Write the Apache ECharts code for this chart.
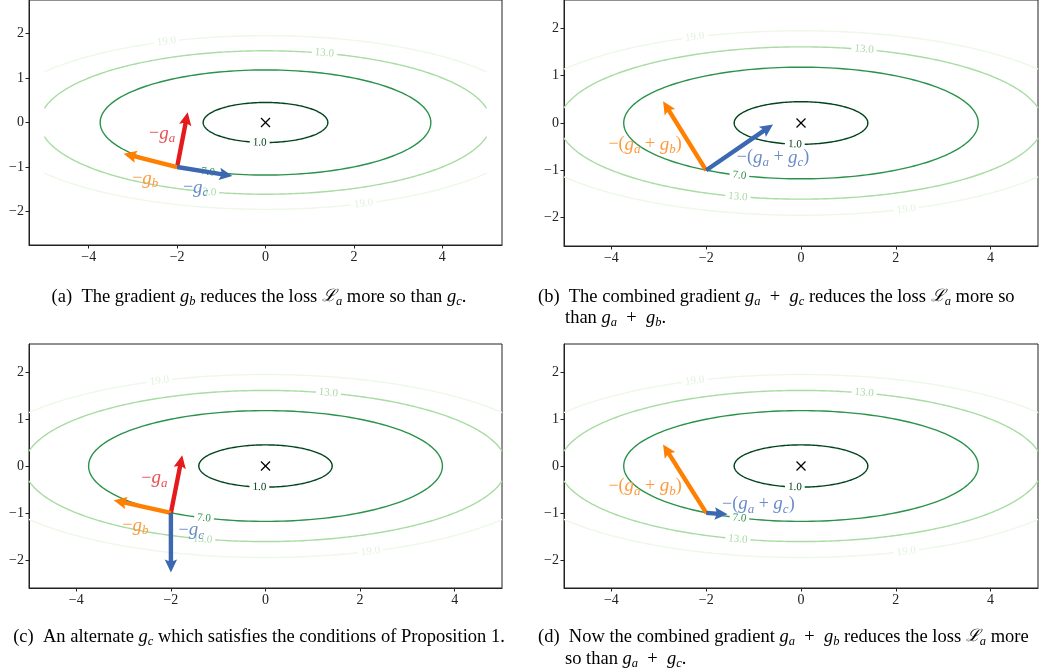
<!DOCTYPE html>
<html lang="en">
<head>
<meta charset="utf-8">
<style>
  html, body { margin: 0; padding: 0; background: #fff; }
  #container { width: 1049px; height: 672px; }
</style>
</head>
<body>
<div id="container"></div>
<script type="text/javascript" src="https://fastly.jsdelivr.net/npm/echarts@6.0.0/dist/echarts.min.js"></script>
<script type="text/javascript">
// ---- data ----
var xTicks = [-4, -2, 0, 2, 4];
var yTicks = [-2, -1, 0, 1, 2];

// loss contours: level, semi axes along x / y
var contourLevels = [1.0, 7.0, 13.0, 19.0];
var contourSemiX = [1.41, 3.74, 5.10, 6.16];
var contourSemiY = [0.45, 1.18, 1.61, 1.95];
var contourGridLimit = 5;   // contours are only evaluated on x in [-5, 5]
// inline label positions [x, y, level index]
var contourLabelAt = [[-0.13, -0.45, 0], [-1.30, -1.11, 1], [1.33, 1.56, 2], [-1.33, -1.56, 2], [-2.24, 1.82, 3], [2.22, -1.82, 3]];

var minimum = [0, 0];
var startPoint = [-2, -1];

// arrow tips [kind, x, y] and their labels [kind, x, y]
var arrowsA = [['ga', -1.76, 0.23], ['gb', -3.21, -0.70], ['gc', -0.75, -1.20]];
var labelsA = [['ga', -2.34, -0.25], ['gb', -2.72, -1.26], ['gc', -1.58, -1.46]];
var arrowsB = [['gab', -2.91, 0.46], ['gac', -0.59, -0.03]];
var labelsB = [['gab', -3.29, -0.46], ['gac', -0.59, -0.73]];
var arrowsC = [['ga', -1.76, 0.23], ['gb', -3.21, -0.73], ['gc', -2.00, -2.27]];
var labelsC = [['ga', -2.35, -0.26], ['gb', -2.75, -1.27], ['gc', -1.57, -1.37]];
var arrowsD = [['gab', -2.91, 0.46], ['gac', -1.55, -1.03]];
var labelsD = [['gab', -3.29, -0.43], ['gac', -0.90, -0.82]];

// ---- styles ----
var serif = "'Liberation Serif', 'DejaVu Serif', serif";
var contourColors = ['#00441b', '#2a924a', '#a9dca3', '#edf8e9'];
var kindColor = { ga: '#e41a1c', gb: '#ff7f00', gc: '#3b68b0', gab: '#ff7f00', gac: '#3b68b0' };
var kindTextColor = { ga: '#ea4f53', gb: '#ff9a3c', gc: '#6b8cc8', gab: '#ff9a3c', gac: '#6b8cc8' };
var kindText = {
  ga: '{m|−}{g|g}{s|a}',
  gb: '{m|−}{g|g}{s|b}',
  gc: '{m|−}{g|g}{s|c}',
  gab: '{m|−(}{g|g}{s|a}{m| + }{g|g}{s|b}{m|)}',
  gac: '{m|−(}{g|g}{s|a}{m| + }{g|g}{s|c}{m|)}'
};

var panels = [
  { left: 29, top: 0, width: 473, height: 245, xr: 5.35, yr: 2.75, arrows: arrowsA, labels: labelsA },
  { left: 564, top: -1, width: 474, height: 247, xr: 5, yr: 2.6, arrows: arrowsB, labels: labelsB },
  { left: 29, top: 344, width: 473, height: 244, xr: 5, yr: 2.6, arrows: arrowsC, labels: labelsC },
  { left: 564, top: 344, width: 474, height: 244, xr: 5, yr: 2.6, arrows: arrowsD, labels: labelsD }
];

function fmtTick(v) { return String(v).replace('-', '\u2212'); }

function renderContour(params, api) {
  var a = api.value(0), b = api.value(1), i = params.dataIndex;
  var arcs = [];
  if (a <= contourGridLimit) {
    arcs.push([0, 2 * Math.PI]);
  } else {
    var t0 = Math.acos(contourGridLimit / a);
    arcs.push([t0, Math.PI - t0], [Math.PI + t0, 2 * Math.PI - t0]);
  }
  return {
    type: 'group',
    children: arcs.map(function (r) {
      var pts = [];
      for (var k = 0; k <= 200; k++) {
        var t = r[0] + (r[1] - r[0]) * k / 200;
        pts.push(api.coord([a * Math.cos(t), b * Math.sin(t)]));
      }
      return { type: 'polyline', shape: { points: pts }, style: { stroke: contourColors[i], lineWidth: 1.4, fill: null } };
    })
  };
}

function renderContourLabel(params, api) {
  var x = api.value(0), y = api.value(1);
  var li = contourLabelAt[params.dataIndex][2];
  var a = contourSemiX[li], b = contourSemiY[li];
  var p = api.coord([x, y]);
  var q = api.coord([x + a * a * y * 0.001, y - b * b * x * 0.001]);
  var ang = Math.atan2(-(q[1] - p[1]), q[0] - p[0]);
  if (ang > Math.PI / 2) ang -= Math.PI;
  if (ang < -Math.PI / 2) ang += Math.PI;
  return {
    type: 'text', x: p[0], y: p[1], rotation: ang,
    style: {
      text: contourLevels[li].toFixed(1), fill: li === 3 ? '#e3f2dd' : contourColors[li],
      font: '11px ' + serif, align: 'center', verticalAlign: 'middle',
      backgroundColor: '#fff', padding: [0, 3]
    }
  };
}

function renderMarker(params, api) {
  var p = api.coord([api.value(0), api.value(1)]), h = 4.5;
  return {
    type: 'group',
    children: [
      { type: 'line', shape: { x1: p[0] - h, y1: p[1] - h, x2: p[0] + h, y2: p[1] + h }, style: { stroke: '#000', lineWidth: 1.2 } },
      { type: 'line', shape: { x1: p[0] - h, y1: p[1] + h, x2: p[0] + h, y2: p[1] - h }, style: { stroke: '#000', lineWidth: 1.2 } }
    ]
  };
}

function makeArrowRenderer(list) {
  return function (params, api) {
    var p0 = api.coord([api.value(0), api.value(1)]);
    var p1 = api.coord([api.value(2), api.value(3)]);
    var dx = p1[0] - p0[0], dy = p1[1] - p0[1];
    var len = Math.sqrt(dx * dx + dy * dy);
    var ux = dx / len, uy = dy / len, nx = -uy, ny = ux;
    var hw = 2.2, hh = 6.2, hl = Math.min(13, len * 0.6), ha = hl * 0.88;
    function pt(along, side) { return [p1[0] - ux * along + nx * side, p1[1] - uy * along + ny * side]; }
    var pts = [
      [p0[0] + nx * hw, p0[1] + ny * hw],
      pt(ha, hw), pt(hl, hh), [p1[0], p1[1]], pt(hl, -hh), pt(ha, -hw),
      [p0[0] - nx * hw, p0[1] - ny * hw]
    ];
    return { type: 'polygon', shape: { points: pts }, style: { fill: kindColor[list[params.dataIndex][0]], stroke: null } };
  };
}

function makeLabelRenderer(list) {
  return function (params, api) {
    var kind = list[params.dataIndex][0];
    var p = api.coord([api.value(0), api.value(1)]);
    var c = kindTextColor[kind];
    return {
      type: 'text', x: p[0], y: p[1],
      style: {
        text: kindText[kind], align: 'center', verticalAlign: 'middle', fill: c,
        rich: {
          m: { fontFamily: serif, fontSize: 18, lineHeight: 22, fill: c, verticalAlign: 'middle' },
          g: { fontFamily: serif, fontStyle: 'italic', fontSize: 19, lineHeight: 22, fill: c, verticalAlign: 'middle' },
          s: { fontFamily: serif, fontStyle: 'italic', fontSize: 13, lineHeight: 12, padding: [10, 0, 0, 0], fill: c, verticalAlign: 'middle' }
        }
      }
    };
  };
}

var grids = [], xAxes = [], yAxes = [], series = [];
panels.forEach(function (pn, i) {
  grids.push({ left: pn.left, top: pn.top, width: pn.width, height: pn.height, show: true, borderColor: '#222', borderWidth: 1, backgroundColor: 'transparent' });
  xAxes.push({
    gridIndex: i, type: 'value', min: -pn.xr, max: pn.xr,
    axisLine: { show: true, onZero: false, lineStyle: { color: '#222', width: 1 } },
    splitLine: { show: false },
    axisTick: { show: true, length: 3.5, customValues: xTicks, lineStyle: { color: '#222' } },
    axisLabel: { customValues: xTicks, formatter: fmtTick, fontFamily: serif, fontSize: 14, color: '#222', margin: 5 }
  });
  yAxes.push({
    gridIndex: i, type: 'value', min: -pn.yr, max: pn.yr,
    axisLine: { show: true, onZero: false, lineStyle: { color: '#222', width: 1 } },
    splitLine: { show: false },
    axisTick: { show: true, length: 3.5, customValues: yTicks, lineStyle: { color: '#222' } },
    axisLabel: { customValues: yTicks, formatter: fmtTick, fontFamily: serif, fontSize: 14, color: '#222', margin: 5 }
  });
  var base = { type: 'custom', coordinateSystem: 'cartesian2d', xAxisIndex: i, yAxisIndex: i, silent: true, clip: false, animation: false };
  series.push(Object.assign({}, base, { z: 1, renderItem: renderContour,
    data: contourSemiX.map(function (a, k) { return [a, contourSemiY[k]]; }) }));
  series.push(Object.assign({}, base, { z: 2, renderItem: renderContourLabel,
    data: contourLabelAt.map(function (d) { return [d[0], d[1]]; }) }));
  series.push(Object.assign({}, base, { z: 3, renderItem: renderMarker, data: [minimum] }));
  series.push(Object.assign({}, base, { z: 4, renderItem: makeArrowRenderer(pn.arrows),
    data: pn.arrows.map(function (d) { return [startPoint[0], startPoint[1], d[1], d[2]]; }) }));
  series.push(Object.assign({}, base, { z: 5, renderItem: makeLabelRenderer(pn.labels),
    data: pn.labels.map(function (d) { return [d[1], d[2]]; }) }));
});

// ---- captions ----
var capRich = {
  t: { fontFamily: serif, fontSize: 18.5, lineHeight: 21, color: '#000', verticalAlign: 'middle' },
  i: { fontFamily: serif, fontStyle: 'italic', fontSize: 18.5, lineHeight: 21, color: '#000', verticalAlign: 'middle' },
  L: { fontFamily: "'DejaVu Serif', serif", fontStyle: 'italic', fontSize: 17, lineHeight: 21, color: '#000', verticalAlign: 'middle' },
  s: { fontFamily: serif, fontStyle: 'italic', fontSize: 12.5, lineHeight: 11, padding: [10, 0, 0, 0], color: '#000', verticalAlign: 'middle' }
};
var captions = [
  { x: 259, y: 297, align: 'center', text: '{t|(a)  The gradient }{i|g}{s|b}{t| reduces the loss }{L|ℒ}{s|a}{t| more so than }{i|g}{s|c}{t|.}' },
  { x: 538, y: 297, align: 'left', text: '{t|(b)  The combined gradient }{i|g}{s|a}{t|  +  }{i|g}{s|c}{t| reduces the loss }{L|ℒ}{s|a}{t| more so}' },
  { x: 565, y: 318, align: 'left', text: '{t|than }{i|g}{s|a}{t|  +  }{i|g}{s|b}{t|.}' },
  { x: 259, y: 637, align: 'center', text: '{t|(c)  An alternate }{i|g}{s|c}{t| which satisfies the conditions of Proposition 1.}' },
  { x: 538, y: 637, align: 'left', text: '{t|(d)  Now the combined gradient }{i|g}{s|a}{t|  +  }{i|g}{s|b}{t| reduces the loss }{L|ℒ}{s|a}{t| more}' },
  { x: 565, y: 659, align: 'left', text: '{t|so than }{i|g}{s|a}{t|  +  }{i|g}{s|c}{t|.}' }
];

var dom = document.getElementById('container');
var myChart = echarts.init(dom, null, { renderer: 'canvas' });
var option = {
  animation: false,
  backgroundColor: '#fff',
  grid: grids,
  xAxis: xAxes,
  yAxis: yAxes,
  series: series,
  graphic: captions.map(function (c) {
    return { type: 'text', x: c.x, y: c.y, silent: true,
      style: { text: c.text, rich: capRich, align: c.align, verticalAlign: 'middle' } };
  })
};
myChart.setOption(option);
</script>
</body>
</html>
